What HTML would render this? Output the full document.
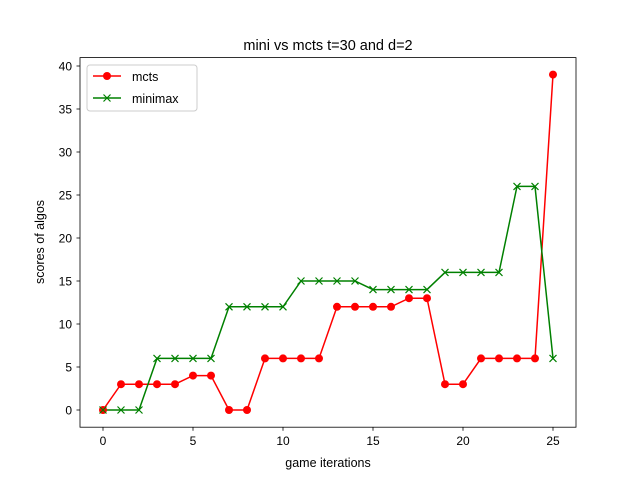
<!DOCTYPE html>
<html><head><meta charset="utf-8"><style>body{margin:0;background:#fff}svg{display:block}</style></head>
<body>
<svg id="chart" width="640" height="480" xmlns="http://www.w3.org/2000/svg" font-family="Liberation Sans, DejaVu Sans, sans-serif">
<rect width="640" height="480" fill="#fff"/>
<text x="328" y="50" font-size="14.5" text-anchor="middle">mini vs mcts t=30 and d=2</text>
<g id="plot"></g>
<rect x="80" y="57.6" width="496" height="369.6" fill="none" stroke="#000" stroke-width="0.8"/>
<text x="328" y="467" font-size="12.5" text-anchor="middle">game iterations</text>
<text transform="translate(44,242) rotate(-90)" font-size="12.5" text-anchor="middle">scores of algos</text>
<g>
<rect x="87" y="65" width="110" height="46" rx="3" fill="#fff" stroke="#ccc"/>
<line x1="93" y1="76" x2="121" y2="76" stroke="red" stroke-width="1.5"/><circle cx="107" cy="76" r="4" fill="red"/>
<text x="132" y="81" font-size="12.5">mcts</text>
<line x1="93" y1="98" x2="121" y2="98" stroke="green" stroke-width="1.5"/><path d="M103.5 94.5L110.5 101.5M110.5 94.5L103.5 101.5" stroke="green" stroke-width="1.2"/>
<text x="132" y="103" font-size="12.5">minimax</text>
</g>
</svg>
<script>
const iterations=[0,1,2,3,4,5,6,7,8,9,10,11,12,13,14,15,16,17,18,19,20,21,22,23,24,25];
const mcts=[0,3,3,3,3,4,4,0,0,6,6,6,6,12,12,12,12,13,13,3,3,6,6,6,6,39];
const minimax=[0,0,0,6,6,6,6,12,12,12,12,15,15,15,15,14,14,14,14,16,16,16,16,26,26,6];
const xTicks=[0,5,10,15,20,25];
const yTicks=[0,5,10,15,20,25,30,35,40];
const NS='http://www.w3.org/2000/svg';
const g=document.getElementById('plot');
const X=v=>103+v*18, Y=v=>410-v*8.6;
function mk(t,a){const e=document.createElementNS(NS,t);for(const k in a)e.setAttribute(k,a[k]);g.appendChild(e);return e;}
xTicks.forEach(v=>{
 const l=mk('line',{x1:X(v),x2:X(v),y1:427.2,y2:430.7,stroke:'#000','stroke-width':0.8});
 
 
 const t=mk('text',{x:X(v),y:445,'font-size':12,'text-anchor':'middle'});t.textContent=v;
 
 
});
yTicks.forEach(v=>{
 const l=mk('line',{x1:76.5,x2:80,y1:Y(v),y2:Y(v),stroke:'#000','stroke-width':0.8});
 
 
 const t=mk('text',{x:72,y:Y(v)+4.5,'font-size':12,'text-anchor':'end'});t.textContent=v;
 
 
});
const p1=mk('polyline',{points:iterations.map((x,i)=>X(x)+','+Y(mcts[i])).join(' '),fill:'none',stroke:'red','stroke-width':1.5});


const p2=mk('polyline',{points:iterations.map((x,i)=>X(x)+','+Y(minimax[i])).join(' '),fill:'none',stroke:'green','stroke-width':1.5});


iterations.forEach((x,i)=>{
 const c=mk('circle',{cx:X(x),cy:Y(mcts[i]),r:4,fill:'red'});
 
 
});
iterations.forEach((x,i)=>{
 const cx=X(x),cy=Y(minimax[i]);
 const m=mk('path',{d:`M${cx-3.5} ${cy-3.5}L${cx+3.5} ${cy+3.5}M${cx+3.5} ${cy-3.5}L${cx-3.5} ${cy+3.5}`,stroke:'green','stroke-width':1.2});
 
 
});
</script>
</body></html>
